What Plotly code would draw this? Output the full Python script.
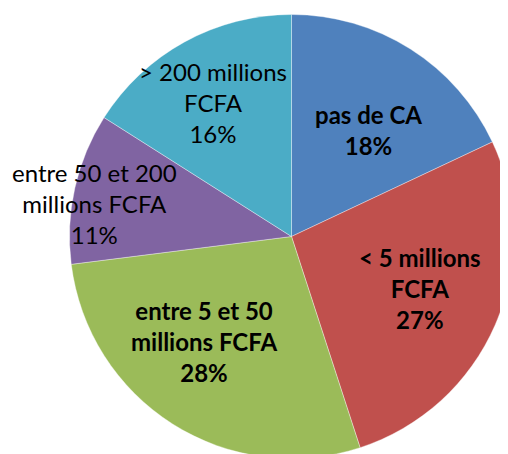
import plotly.graph_objects as go

categories = ["pas de CA", "< 5 millions FCFA", "entre 5 et 50 millions FCFA",
              "entre 50 et 200 millions FCFA", "> 200 millions FCFA"]
values = [18, 27, 28, 11, 16]
label_lines = [["pas de CA"], ["< 5 millions", "FCFA"], ["entre 5 et 50", "millions FCFA"],
               ["entre 50 et 200", "millions FCFA"], ["> 200 millions", "FCFA"]]
bold_labels = [True, True, True, False, False]

colors = ["#4F81BD", "#C0504D", "#9BBB59", "#8064A2", "#4BACC6"]

W, H = 508, 454
OFF = 8  # default page body margin offsets the figure
# label centres in page pixels (x, y from top)
label_pos_px = [(368, 130), (420, 288), (204, 341), (94, 203), (213, 102)]

cx, cy, r = 291.5 - OFF, 236.5 - OFF, 222
dom_x = [(cx - r) / W, (cx + r) / W]
dom_y = [1 - (cy + r) / H, 1 - (cy - r) / H]

fig = go.Figure(go.Pie(
    labels=categories,
    values=values,
    sort=False,
    direction="clockwise",
    rotation=0,
    marker=dict(colors=colors, line=dict(color="rgba(255,255,255,0.6)", width=0.6)),
    textinfo="none",
    hoverinfo="label+percent",
    domain=dict(x=dom_x, y=dom_y),
    showlegend=False,
))

total = sum(values)
for lines, v, bold, (px, py) in zip(label_lines, values, bold_labels, label_pos_px):
    pct = f"{round(100 * v / total)}%"
    txt = "<br>".join(lines + [pct])
    if bold:
        txt = "<b>" + txt + "</b>"
    fig.add_annotation(
        x=(px - OFF) / W, y=1 - (py - OFF) / H, xref="paper", yref="paper",
        text=txt, showarrow=False, xanchor="center", yanchor="middle", align="center",
        font=dict(family="Lato, Carlito, Calibri, sans-serif", size=24, color="#000000"),
    )

fig.update_layout(
    width=W, height=H,
    margin=dict(l=0, r=0, t=0, b=0),
    paper_bgcolor="white",
    plot_bgcolor="white",
)

fig.write_html("out.html")
